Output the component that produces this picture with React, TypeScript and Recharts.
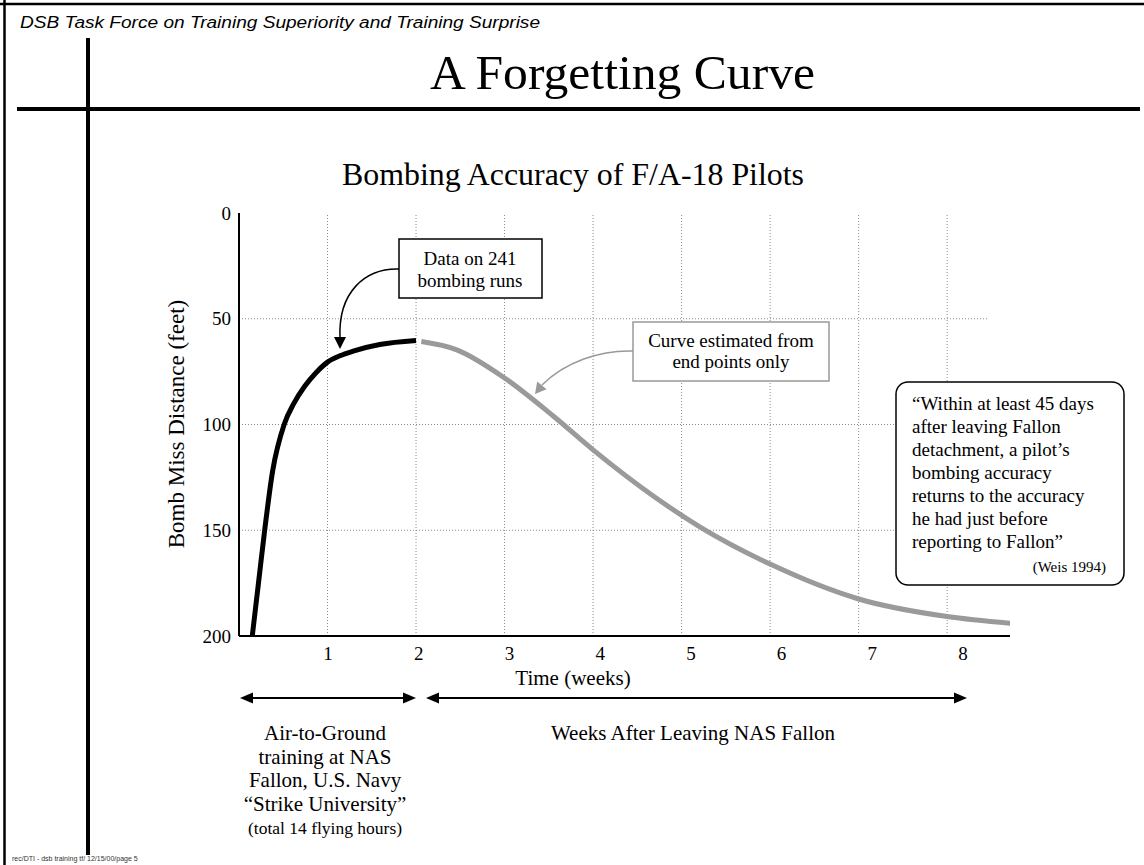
import { LineChart, Line, XAxis, YAxis, ReferenceLine } from 'recharts'

const SERIF = "'Liberation Serif', 'Times New Roman', serif"
const SANS = "'Liberation Sans', Arial, sans-serif"

// black curve: measured at Fallon
const trainedWeeks = [0.15, 0.22, 0.29, 0.38, 0.51, 0.62, 0.74, 0.87, 1.0, 1.14, 1.29, 1.59, 2.0]
const trainedMiss = [200, 175, 150, 122, 100, 90, 82, 75.5, 70.5, 67.5, 65.3, 62.2, 60.3]

// grey curve: estimated after leaving
const afterWeeks = [2.06, 2.46, 3, 3.55, 4, 4.72, 5.21, 6, 7, 8, 8.72]
const afterMiss = [60.8, 64.7, 78, 96, 112, 135, 148.5, 166, 182.5, 190.8, 194]

const weekTicks = [1, 2, 3, 4, 5, 6, 7, 8]
const missTicks = [0, 50, 100, 150, 200]
const gridMiss = [50, 100, 150]
const gridMissEnd = [8.45, 7.43, 8.26]

const trainedData = trainedWeeks.map((week, i) => ({ week, miss: trainedMiss[i] }))
const afterData = afterWeeks.map((week, i) => ({ week, miss: afterMiss[i] }))

const quoteLines = [
  '\u201CWithin at least 45 days',
  'after leaving Fallon',
  'detachment, a pilot\u2019s',
  'bombing accuracy',
  'returns to the accuracy',
  'he had just before',
  'reporting to Fallon\u201D',
]

const schoolLines = ['Air-to-Ground', 'training at NAS', 'Fallon, U.S. Navy', '\u201CStrike University\u201D']

function WeekTick({ x, y, payload }: any) {
  // labels in the original drift slightly right of their gridlines
  const shift = (payload.value - 1) * 2.2 + 0.5
  return (
    <text x={x + shift} y={y} dy="0.71em" textAnchor="middle" fontSize={19} fontFamily={SERIF} fill="#000">
      {payload.value}
    </text>
  )
}

function MissTick({ x, y, payload }: any) {
  return (
    <text x={x} y={y} dy="0.355em" textAnchor="end" fontSize={19} fontFamily={SERIF} fill="#000">
      {payload.value}
    </text>
  )
}

function Overlay() {
  return (
    <svg width={1144} height={865} style={{ position: 'absolute', left: 0, top: 0, pointerEvents: 'none' }}>
      {/* slide frame */}
      <line x1={4.5} y1={0} x2={4.5} y2={865} stroke="#000" strokeWidth={2.5} />
      <line x1={0} y1={4} x2={1144} y2={4} stroke="#000" strokeWidth={2.5} />
      <line x1={88} y1={38} x2={88} y2={855} stroke="#000" strokeWidth={4} />
      <line x1={17} y1={109} x2={1140} y2={109} stroke="#000" strokeWidth={4} />

      <text x={20} y={28} fontFamily={SANS} fontStyle="italic" fontSize={16} textLength={520} lengthAdjust="spacingAndGlyphs">
        DSB Task Force on Training Superiority and Training Surprise
      </text>
      <text x={622.5} y={89} textAnchor="middle" fontFamily={SERIF} fontSize={48} textLength={385} lengthAdjust="spacingAndGlyphs">
        A Forgetting Curve
      </text>
      <text x={573} y={185} textAnchor="middle" fontFamily={SERIF} fontSize={32} textLength={462} lengthAdjust="spacingAndGlyphs">
        Bombing Accuracy of F/A-18 Pilots
      </text>

      <text transform="translate(184,424) rotate(-90)" textAnchor="middle" fontFamily={SERIF} fontSize={23}>
        Bomb Miss Distance (feet)
      </text>
      <text x={573} y={685} textAnchor="middle" fontFamily={SERIF} fontSize={21}>
        Time (weeks)
      </text>

      {/* data box + arrow */}
      <rect x={399} y={239} width={143} height={59} fill="#fff" stroke="#000" strokeWidth={1.5} />
      <text x={470} y={265} textAnchor="middle" fontFamily={SERIF} fontSize={19}>Data on 241</text>
      <text x={470} y={287} textAnchor="middle" fontFamily={SERIF} fontSize={19}>bombing runs</text>
      <path d="M399,269 C365,268 338,292 340,338" fill="none" stroke="#000" strokeWidth={1.5} />
      <path d="M334,337 L346,337 L340,349 Z" fill="#000" />

      {/* estimate box + arrow */}
      <rect x={633} y={322} width={196} height={59} fill="#fff" stroke="#999" strokeWidth={1.5} />
      <text x={731} y={347} textAnchor="middle" fontFamily={SERIF} fontSize={19}>Curve estimated from</text>
      <text x={731} y={368} textAnchor="middle" fontFamily={SERIF} fontSize={19}>end points only</text>
      <path d="M633,351 C600,350 565,362 542,385" fill="none" stroke="#999" strokeWidth={1.5} />
      <path d="M535,394 L546.6,389.2 L537.2,381.6 Z" fill="#999" />

      {/* quote box */}
      <rect x={896} y={382} width={228} height={203} rx={12} ry={12} fill="#fff" stroke="#000" strokeWidth={1.5} />
      {quoteLines.map((t, i) => (
        <text key={t} x={912} y={410 + i * 23} fontFamily={SERIF} fontSize={19}>
          {t}
        </text>
      ))}
      <text x={1106} y={572} textAnchor="end" fontFamily={SERIF} fontSize={15}>(Weis 1994)</text>

      {/* period arrows */}
      <line x1={250} y1={698} x2={406} y2={698} stroke="#000" strokeWidth={2} />
      <path d="M240,698 L253,692.5 L253,703.5 Z" fill="#000" />
      <path d="M416,698 L403,692.5 L403,703.5 Z" fill="#000" />
      <line x1={436} y1={698} x2={957} y2={698} stroke="#000" strokeWidth={2} />
      <path d="M426,698 L439,692.5 L439,703.5 Z" fill="#000" />
      <path d="M967,698 L954,692.5 L954,703.5 Z" fill="#000" />

      {schoolLines.map((t, i) => (
        <text key={t} x={325} y={740 + i * 23.5} textAnchor="middle" fontFamily={SERIF} fontSize={21}>
          {t}
        </text>
      ))}
      <text x={325} y={834} textAnchor="middle" fontFamily={SERIF} fontSize={17.5}>(total 14 flying hours)</text>
      <text x={693} y={740} textAnchor="middle" fontFamily={SERIF} fontSize={21}>Weeks After Leaving NAS Fallon</text>

      <text x={12} y={861} fontFamily={SANS} fontSize={7} fill="#333">rec/DTI - dsb training tf/ 12/15/00/page 5</text>
    </svg>
  )
}

export default function App() {
  return (
    <div style={{ position: 'absolute', left: 0, top: 0, width: 1144, height: 865, background: '#fff' }}>
      <LineChart width={1144} height={865} margin={{ top: 213, right: 134, bottom: 199, left: 179 }}>
        <XAxis
          type="number"
          dataKey="week"
          domain={[0, 8.71]}
          ticks={weekTicks}
          allowDataOverflow
          height={30}
          tickLine={false}
          tickMargin={5}
          axisLine={{ stroke: '#000', strokeWidth: 2 }}
          tick={WeekTick}
        />
        <YAxis
          type="number"
          dataKey="miss"
          domain={[0, 200]}
          reversed
          ticks={missTicks}
          width={60}
          tickLine={false}
          axisLine={{ stroke: '#000', strokeWidth: 2 }}
          tick={MissTick}
        />
        {weekTicks.map((w) => (
          <ReferenceLine key={'v' + w} x={w} stroke="#8a8a8a" strokeDasharray="1 2" />
        ))}
        {gridMiss.map((m, i) => (
          <ReferenceLine
            key={'h' + m}
            segment={[{ x: 0, y: m }, { x: gridMissEnd[i], y: m }]}
            stroke="#8a8a8a"
            strokeDasharray="1 2"
          />
        ))}
        <Line data={trainedData} dataKey="miss" type="monotone" stroke="#000" strokeWidth={5} dot={false} isAnimationActive={false} />
        <Line data={afterData} dataKey="miss" type="monotone" stroke="#9a9a9a" strokeWidth={5} dot={false} isAnimationActive={false} />
      </LineChart>
      <Overlay />
    </div>
  )
}
